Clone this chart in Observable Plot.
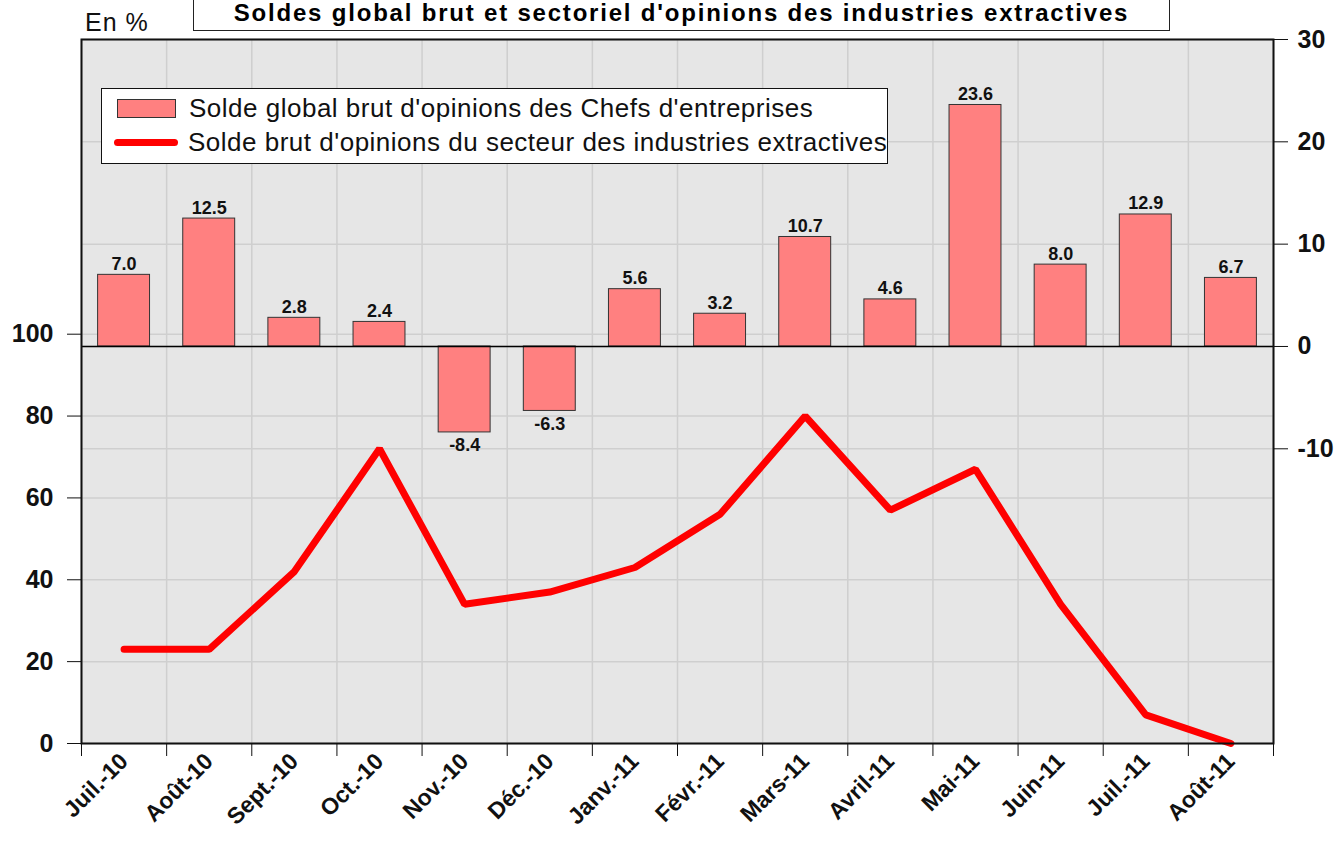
<!DOCTYPE html>
<html>
<head>
<meta charset="utf-8">
<script src="https://cdn.jsdelivr.net/npm/d3@7"></script>
<script src="https://cdn.jsdelivr.net/npm/@observablehq/plot@0.6"></script>
<style>
  html, body { margin: 0; padding: 0; background: #fff; overflow: hidden; }
  body { width: 1340px; height: 847px; position: relative; font-family: "Liberation Sans", Arial, sans-serif; }
  #title { position: absolute; left: 193px; top: -16px; width: 977px; border: 1.5px solid #222;
    background: #fff; font-weight: bold; font-size: 24px; letter-spacing: 1.8px; text-align: center; line-height: 26px; padding-top: 15px; box-sizing: border-box; height: 47px; white-space: nowrap; z-index: 2; }
  #unit { position: absolute; left: 85px; top: 8px; font-size: 25px; color: #111; z-index: 2; letter-spacing: 1px; }
  #legend { position: absolute; left: 101px; top: 88px; width: 785px; height: 74px; border: 1.5px solid #111;
    background: #fff; z-index: 2; font-size: 26px; color: #111; }
  .lg-row { position: absolute; left: 0; display: flex; align-items: center; height: 34px; white-space: nowrap; }
  .sw-rect { width: 57px; height: 17px; background: #ff8080; border: 1px solid #333; margin-left: 15px; margin-right: 13px; }
  .sw-line { width: 64px; height: 7px; background: #ff0000; border-radius: 4px; margin-left: 12px; margin-right: 10px; }
  #chart { position: absolute; left: 0; top: 0; }
</style>
</head>
<body>
<div id="title">Soldes global brut et sectoriel d'opinions des industries extractives</div>
<div id="unit">En %</div>
<div id="legend"></div>
<div id="chart"></div>
<script>
// ---- Data ----
const months = ["Juil.-10","Août-10","Sept.-10","Oct.-10","Nov.-10","Déc.-10","Janv.-11","Févr.-11","Mars-11","Avril-11","Mai-11","Juin-11","Juil.-11","Août-11"];
const globalBalance = [7.0, 12.5, 2.8, 2.4, -8.4, -6.3, 5.6, 3.2, 10.7, 4.6, 23.6, 8.0, 12.9, 6.7];
const extractiveBalance = [23, 23, 42, 72, 34, 37, 43, 56, 80, 57, 67, 34, 7, 0];
const leftTicks = [0, 20, 40, 60, 80, 100];
const rightTicks = [-10, 0, 10, 20, 30];
const legendLabels = ["Solde global brut d'opinions des Chefs d'entreprises", "Solde brut d'opinions du secteur des industries extractives"];

// ---- Scales mapping (left axis 0..172, right axis -38.8..30 share the same pixel range) ----
const leftMax = 172;
const rightMin = -38.8, rightMax = 30;
const toLeft = r => (r - rightMin) * leftMax / (rightMax - rightMin);
const fromLeft = v => v * (rightMax - rightMin) / leftMax + rightMin;

const data = months.map((m, i) => ({i, m, g: globalBalance[i], e: extractiveBalance[i]}));
const idx = months.map((_, i) => i);
const bounds = d3.range(months.length + 1).map(i => i - 0.5);
const half = 0.305;

// legend
const legend = document.getElementById("legend");
[["sw-rect", 2], ["sw-line", 36]].forEach(([cls, top], k) => {
  const row = document.createElement("div");
  row.className = "lg-row";
  row.style.top = top + "px";
  const sw = document.createElement("div");
  sw.className = cls;
  const t = document.createElement("span");
  t.textContent = legendLabels[k];
  t.style.letterSpacing = "0.5px";
  row.appendChild(sw); row.appendChild(t);
  legend.appendChild(row);
});

const grid = "#cfcfcf";
const plot = Plot.plot({
  width: 1340,
  height: 847,
  marginLeft: 81,
  marginRight: 67,
  marginTop: 39,
  marginBottom: 104,
  style: {fontFamily: "'Liberation Sans', Arial, sans-serif", color: "#111", background: "transparent"},
  x: {domain: [-0.5, months.length - 0.5]},
  y: {domain: [0, leftMax]},
  marks: [
    Plot.frame({fill: "#e6e6e6"}),
    Plot.ruleY(leftTicks, {stroke: grid, strokeWidth: 1.5}),
    Plot.ruleY(rightTicks.map(toLeft), {stroke: grid, strokeWidth: 1.5}),
    Plot.ruleX(bounds, {stroke: grid, strokeWidth: 1.5}),
    Plot.rectY(data, {x1: d => d.i - half, x2: d => d.i + half, y1: toLeft(0), y2: d => toLeft(d.g),
      fill: "#ff8080", stroke: "#333", strokeWidth: 1}),
    Plot.ruleY([toLeft(0)], {stroke: "#000", strokeWidth: 1.5}),
    Plot.lineY(data, {x: "i", y: "e", stroke: "#ff0000", strokeWidth: 7, strokeLinejoin: "miter", strokeLinecap: "round"}),
    Plot.text(data.filter(d => d.g >= 0), {x: "i", y: d => toLeft(d.g), text: d => d.g.toFixed(1),
      lineAnchor: "bottom", fontSize: 18, fontWeight: "bold", fill: "#111", dy: -5}),
    Plot.text(data.filter(d => d.g < 0), {x: "i", y: d => toLeft(d.g), text: d => d.g.toFixed(1),
      lineAnchor: "top", fontSize: 18, fontWeight: "bold", fill: "#111", dy: 6}),
    Plot.frame({stroke: "#111", strokeWidth: 2}),
    Plot.axisY({ticks: leftTicks, anchor: "left", tickSize: 14, tickPadding: 14, fontSize: 25, fontWeight: "bold", label: null, tickFormat: d => d}),
    Plot.axisY({ticks: rightTicks.map(toLeft), anchor: "right", tickSize: 14, tickPadding: 10, fontSize: 25, fontWeight: "bold", label: null,
      tickFormat: v => String(Math.round(fromLeft(v)))}),
    Plot.axisX({ticks: bounds, tickSize: 13, tickFormat: () => "", label: null}),
    Plot.axisX({ticks: idx, tickSize: 0, tickPadding: 14, tickRotate: -45, tickFormat: i => months[i],
      fontSize: 23, fontWeight: "bold", label: null})
  ]
});
document.getElementById("chart").appendChild(plot);
</script>
</body>
</html>
